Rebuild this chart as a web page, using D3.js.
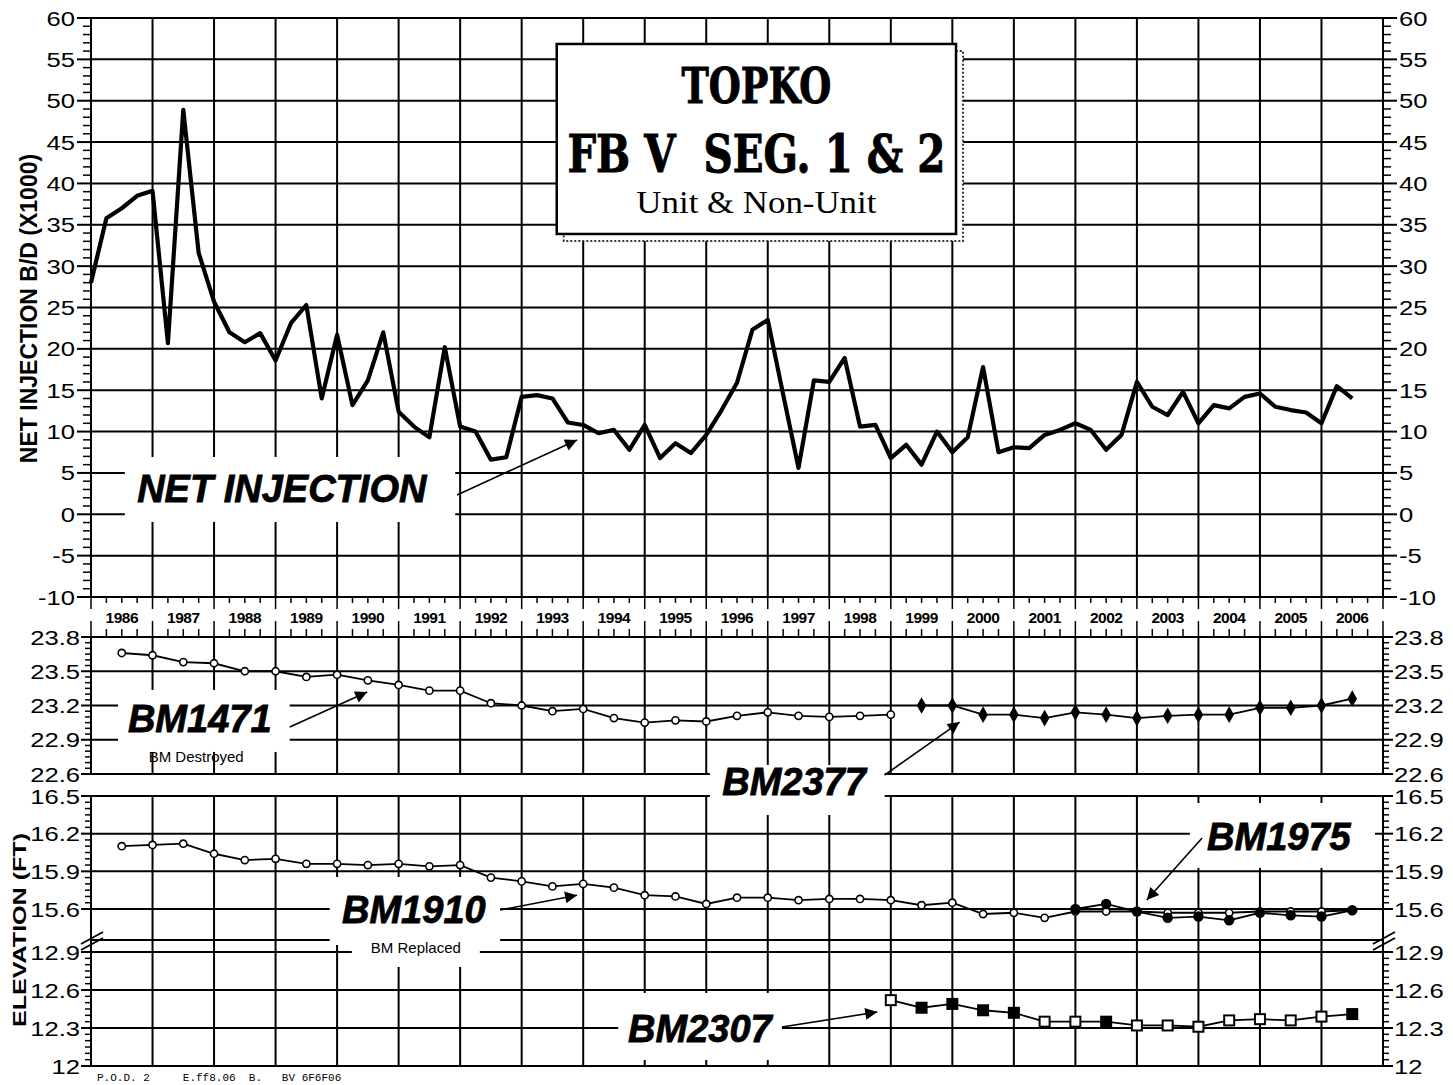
<!DOCTYPE html>
<html>
<head>
<meta charset="utf-8">
<script src="https://cdn.jsdelivr.net/npm/d3@7"></script>
<style>
  body { margin: 0; background: #fff; }
  svg { display: block; }
  text { font-family: "Liberation Sans", Arial, sans-serif; }
</style>
</head>
<body>
<script>
// net injection, quarterly from 1986.0 (B/D x1000)
const injStart = 1986;
const injection = [
  28.0, 35.8, 37.0, 38.5, 39.1, 20.7, 48.9, 31.6,
  25.7, 22.0, 20.8, 21.9, 18.6, 23.1, 25.3, 14.0,
  21.7, 13.2, 16.2, 22.0, 12.4, 10.6, 9.3, 20.2,
  10.6, 10.0, 6.6, 6.9, 14.2, 14.4, 14.0, 11.1,
  10.8, 9.8, 10.2, 7.8, 10.8, 6.8, 8.6, 7.4,
  9.6, 12.6, 15.9, 22.3, 23.5, 14.5, 5.6, 16.2,
  16.0, 18.9, 10.6, 10.8, 6.8, 8.4, 6.0, 10.0,
  7.5, 9.3, 17.8, 7.5, 8.1, 8.0, 9.6, 10.2,
  11.0, 10.2, 7.8, 9.6, 16.0, 13.0, 12.0, 14.8,
  11.0, 13.2, 12.8, 14.2, 14.6, 13.0, 12.6, 12.3,
  11.0, 15.5, 14.0
];

// bench mark elevations (ft), surveyed every half year
const bm1471Start = 1986.5;
const bm1471 = [23.66, 23.64, 23.58, 23.57, 23.50, 23.50, 23.45, 23.47, 23.42, 23.38,
  23.33, 23.33, 23.22, 23.20, 23.15, 23.17, 23.09, 23.05, 23.07, 23.06,
  23.11, 23.14, 23.11, 23.10, 23.11, 23.12];
const bm2377Start = 1999.5;
const bm2377 = [23.20, 23.20, 23.12, 23.12, 23.09, 23.14, 23.12, 23.09, 23.11, 23.12,
  23.12, 23.18, 23.18, 23.20, 23.26];
const bm1910Start = 1986.5;
const bm1910 = [16.10, 16.11, 16.12, 16.04, 15.99, 16.00, 15.96, 15.96, 15.95, 15.96,
  15.94, 15.95, 15.85, 15.82, 15.78, 15.80, 15.77, 15.71, 15.70, 15.64,
  15.69, 15.69, 15.67, 15.68, 15.68, 15.67, 15.63, 15.65, 15.56, 15.57,
  15.53, 15.58, 15.58, 15.58, 15.57, 15.57, 15.57, 15.58, 15.58, 15.58, 15.59];
const bm1975Start = 2002.0;
const bm1975 = [15.60, 15.64, 15.58, 15.53, 15.54, 15.51, 15.57, 15.55, 15.54, 15.59];
const bm2307Start = 1999.0;
const bm2307 = [12.52, 12.46, 12.49, 12.44, 12.42, 12.35, 12.35, 12.35, 12.32, 12.32,
  12.31, 12.36, 12.37, 12.36, 12.39, 12.41];
const bm2307Filled = [false, true, true, true, true, false, false, true, false, false,
  false, false, false, false, false, true];

// axis ticks
const years = d3.range(1986, 2007);
const injTicks = [-10, -5, 0, 5, 10, 15, 20, 25, 30, 35, 40, 45, 50, 55, 60];
const upperTicks = [22.6, 22.9, 23.2, 23.5, 23.8];
const hiTicks = [15.6, 15.9, 16.2, 16.5];
const loTicks = [12, 12.3, 12.6, 12.9];

const W = 1453, H = 1085;
const svg = d3.select("body").append("svg").attr("width", W).attr("height", H);

const x = d3.scaleLinear().domain([1986, 2007]).range([91, 1383]);
const yInj = d3.scaleLinear().domain([-10, 60]).range([597, 18]);
const yUp = d3.scaleLinear().domain([22.6, 23.8]).range([774, 637]);
const yHi = d3.scaleLinear().domain([15.6, 16.5]).range([909, 796]);
const yLo = d3.scaleLinear().domain([12, 12.9]).range([1066, 952]);
const breakY = yLo(12.9) - 12;

const x0 = x(1986), x1 = x(2007);
const grid = svg.append("g").attr("stroke", "#000").attr("stroke-width", 2);

// ---- grids and frames
function panel(top, bottom, hLines) {
  grid.selectAll(null).data(years.slice(1)).enter().append("line")
    .attr("x1", d => x(d)).attr("x2", d => x(d))
    .attr("y1", top).attr("y2", bottom);
  grid.selectAll(null).data(hLines).enter().append("line")
    .attr("x1", x0).attr("x2", x1).attr("y1", d => d).attr("y2", d => d);
  grid.append("rect").attr("x", x0).attr("y", top)
    .attr("width", x1 - x0).attr("height", bottom - top).attr("fill", "none");
}
panel(yInj(60), yInj(-10), injTicks.map(yInj));
panel(yUp(23.8), yUp(22.6), upperTicks.map(yUp));
panel(yHi(16.5), yLo(12), hiTicks.map(yHi).concat(loTicks.map(yLo), [breakY]));

// ---- y axes (left and right)
function stretched(g, px, py, str, anchor, size) {
  g.append("text")
    .attr("transform", `translate(${px},${py}) scale(1.22,1)`)
    .attr("text-anchor", anchor).attr("dy", "0.36em")
    .attr("font-size", size).text(str);
}
function yAxis(scale, majors, minors, majLen, minLen, labelGap) {
  const g = svg.append("g");
  const minorsIn = minors.filter(v => !majors.some(m => Math.abs(m - v) < 1e-6));
  [[x0, -1], [x1, 1]].forEach(([ax, dir]) => {
    g.selectAll(null).data(minorsIn).enter().append("line")
      .attr("x1", ax).attr("x2", ax + dir * minLen)
      .attr("y1", d => scale(d)).attr("y2", d => scale(d))
      .attr("stroke", "#000").attr("stroke-width", 1.5);
    g.selectAll(null).data(majors).enter().append("line")
      .attr("x1", ax).attr("x2", ax + dir * majLen)
      .attr("y1", d => scale(d)).attr("y2", d => scale(d))
      .attr("stroke", "#000").attr("stroke-width", 2);
    majors.forEach(v => stretched(g, ax + dir * (majLen + labelGap), scale(v), String(v),
      dir < 0 ? "end" : "start", 21));
  });
}
yAxis(yInj, injTicks, d3.range(-10, 60.01, 1), 14, 8, 2);
yAxis(yUp, upperTicks, d3.range(22.6, 23.801, 0.05), 10, 6, 1);
yAxis(yHi, hiTicks, d3.range(15.6, 16.501, 0.05), 10, 6, 1);
yAxis(yLo, loTicks, d3.range(12, 12.901, 0.05), 10, 6, 1);

// ---- year strip between top and middle panels
const quarterTicks = d3.range(1986, 2007.01, 0.25);
const strip = svg.append("g").attr("stroke", "#000").attr("stroke-width", 1.5);
strip.selectAll(null).data(quarterTicks).enter().append("line")
  .attr("x1", d => x(d)).attr("x2", d => x(d))
  .attr("y1", yInj(-10))
  .attr("y2", d => yInj(-10) + (d % 1 === 0 ? 12 : 6));
strip.selectAll(null).data(quarterTicks).enter().append("line")
  .attr("x1", d => x(d)).attr("x2", d => x(d))
  .attr("y1", yUp(23.8))
  .attr("y2", d => yUp(23.8) - (d % 1 === 0 ? 16 : 8));
svg.append("g").selectAll("text").data(years).enter().append("text")
  .attr("x", d => x(d + 0.5)).attr("y", 623)
  .attr("text-anchor", "middle").attr("font-size", 15.5).attr("font-weight", "bold")
  .attr("letter-spacing", -0.5)
  .text(d => d);

// axis break marks
function breakMark(ax) {
  [0, 6].forEach(o => svg.append("line")
    .attr("x1", ax - 10).attr("y1", breakY + 4 + o)
    .attr("x2", ax + 12).attr("y2", breakY - 8 + o)
    .attr("stroke", "#000").attr("stroke-width", 1.8));
}
breakMark(x0);
breakMark(x1);

// ---- white boxes that hide the grid behind labels
const boxes = [
  [1986.55, 1991.92, yInj(6.93), yInj(-0.93)],
  [1986.44, 1989.23, yUp(23.336), yUp(22.793)],
  [1996.06, 1998.9, yUp(22.679), yHi(16.349)],
  [1989.88, 1992.65, yHi(15.855), yHi(15.313)],
  [1990.24, 1992.32, yLo(12.995), yLo(12.782)],
  [2003.86, 2006.87, yHi(16.444), yHi(15.927)],
  [1994.57, 1997.23, yLo(12.576), yLo(12.047)]
];
svg.append("g").selectAll("rect").data(boxes).enter().append("rect")
  .attr("x", d => x(d[0])).attr("y", d => d[2])
  .attr("width", d => x(d[1]) - x(d[0])).attr("height", d => d[3] - d[2])
  .attr("fill", "#fff");

// ---- title box
const tb = { t0: 1993.57, t1: 2000.06, v0: 56.86, v1: 33.89 };
svg.append("rect")
  .attr("x", x(tb.t0) + 7).attr("y", yInj(tb.v0) + 7)
  .attr("width", x(tb.t1) - x(tb.t0)).attr("height", yInj(tb.v1) - yInj(tb.v0))
  .attr("fill", "#fff").attr("stroke", "#333").attr("stroke-width", 2)
  .attr("stroke-dasharray", "2,2");
svg.append("rect")
  .attr("x", x(tb.t0)).attr("y", yInj(tb.v0))
  .attr("width", x(tb.t1) - x(tb.t0)).attr("height", yInj(tb.v1) - yInj(tb.v0))
  .attr("fill", "#fff").attr("stroke", "#000").attr("stroke-width", 2.5);
const tcx = x((tb.t0 + tb.t1) / 2);
svg.append("text").attr("x", tcx).attr("y", yInj(49.72))
  .attr("text-anchor", "middle")
  .attr("font-weight", "bold").attr("font-size", 49)
  .attr("stroke", "#000").attr("stroke-width", 1)
  .attr("textLength", 150).attr("lengthAdjust", "spacingAndGlyphs")
  .style("font-family", "'DejaVu Serif', serif").text("TOPKO");
svg.append("text").attr("x", tcx).attr("y", yInj(41.38))
  .attr("text-anchor", "middle").attr("font-weight", "bold").attr("font-size", 53)
  .attr("stroke", "#000").attr("stroke-width", 1)
  .attr("textLength", 378).attr("lengthAdjust", "spacingAndGlyphs")
  .style("font-family", "'DejaVu Serif', serif").style("white-space", "pre")
  .text("FB V  SEG. 1 & 2");
svg.append("text").attr("x", tcx).attr("y", yInj(36.42))
  .attr("text-anchor", "middle").attr("font-size", 32)
  .attr("textLength", 240).attr("lengthAdjust", "spacingAndGlyphs")
  .style("font-family", "'Liberation Serif', serif").text("Unit & Non-Unit");

// ---- data lines
const injData = injection.map((v, i) => ({ t: injStart + i * 0.25, v }));
const semi = (start, vals) => vals.map((v, i) => ({ t: start + i * 0.5, v, i }));

svg.append("path").datum(injData)
  .attr("d", d3.line().x(d => x(d.t)).y(d => yInj(d.v)))
  .attr("fill", "none").attr("stroke", "#000").attr("stroke-width", 4.2)
  .attr("stroke-linejoin", "round");

function series(data, scale, marker) {
  svg.append("path").datum(data)
    .attr("d", d3.line().x(d => x(d.t)).y(d => scale(d.v)))
    .attr("fill", "none").attr("stroke", "#000").attr("stroke-width", 1.8);
  const g = svg.append("g");
  data.forEach(d => marker(g, x(d.t), scale(d.v), d));
}
const openCircle = (g, cx, cy) => g.append("circle").attr("cx", cx).attr("cy", cy).attr("r", 3.6)
  .attr("fill", "#fff").attr("stroke", "#000").attr("stroke-width", 1.6);
const dotCircle = (g, cx, cy) => g.append("circle").attr("cx", cx).attr("cy", cy).attr("r", 5.2)
  .attr("fill", "#000");
const diamond = (g, cx, cy) => g.append("path")
  .attr("d", d3.symbol(d3.symbolDiamond, 80)()).attr("transform", `translate(${cx},${cy})`)
  .attr("fill", "#000");
const square = (g, cx, cy, d) => g.append("rect")
  .attr("x", cx - 5).attr("y", cy - 5).attr("width", 10).attr("height", 10)
  .attr("fill", bm2307Filled[d.i] ? "#000" : "#fff").attr("stroke", "#000").attr("stroke-width", 2);

series(semi(bm1471Start, bm1471), yUp, openCircle);
series(semi(bm2377Start, bm2377), yUp, diamond);
series(semi(bm1910Start, bm1910), yHi, openCircle);
series(semi(bm1975Start, bm1975), yHi, dotCircle);
series(semi(bm2307Start, bm2307), yLo, square);

// ---- annotations
svg.append("defs").append("marker").attr("id", "arrow")
  .attr("viewBox", "0 0 10 10").attr("refX", 10).attr("refY", 5)
  .attr("markerWidth", 16).attr("markerHeight", 12).attr("markerUnits", "userSpaceOnUse")
  .attr("orient", "auto")
  .append("path").attr("d", "M0,0 L10,5 L0,10 Z").attr("fill", "#000");

const notes = [
  { text: "NET INJECTION", t: 1986.75, y: yInj(1.49), from: [1991.95, yInj(2.33)], to: [1993.9, yInj(8.98)] },
  { text: "BM1471", t: 1986.6, y: yUp(22.968), from: [1989.23, yUp(23.012)], to: [1990.49, yUp(23.318)] },
  { text: "BM2377", t: 1996.26, y: yHi(16.5) - 1, from: [1998.9, yUp(22.6) + 1], to: [2000.12, yUp(23.055)] },
  { text: "BM1910", t: 1990.08, y: yHi(15.489), from: [1992.65, yHi(15.592)], to: [1993.9, yHi(15.71)] },
  { text: "BM1975", t: 2004.14, y: yHi(16.07), from: [2004.06, yHi(16.166)], to: [2003.16, yHi(15.672)] },
  { text: "BM2307", t: 1994.73, y: yLo(12.189), from: [1997.23, yLo(12.308)], to: [1998.78, yLo(12.426)] }
];
const ng = svg.append("g");
notes.forEach(n => {
  ng.append("line")
    .attr("x1", x(n.from[0])).attr("y1", n.from[1])
    .attr("x2", x(n.to[0])).attr("y2", n.to[1])
    .attr("stroke", "#000").attr("stroke-width", 1.6).attr("marker-end", "url(#arrow)");
  ng.append("text").attr("x", x(n.t)).attr("y", n.y)
    .attr("font-size", 38).attr("font-weight", "bold").attr("font-style", "italic")
    .attr("stroke", "#000").attr("stroke-width", 0.8)
    .text(n.text);
});
ng.append("text").attr("x", x(1987.71)).attr("y", yUp(22.705))
  .attr("text-anchor", "middle").attr("font-size", 15).text("BM Destroyed");
ng.append("text").attr("x", x(1991.28)).attr("y", yLo(12.892))
  .attr("text-anchor", "middle").attr("font-size", 15).text("BM Replaced");

// ---- axis titles
svg.append("text")
  .attr("transform", `translate(37,${(150 + 467) / 2}) rotate(-90)`)
  .attr("text-anchor", "middle").attr("font-size", 23).attr("font-weight", "bold")
  .text("NET INJECTION B/D (X1000)");
svg.append("text")
  .attr("transform", `translate(26,${(833 + 1027) / 2}) rotate(-90)`)
  .attr("text-anchor", "middle").attr("font-size", 19).attr("font-weight", "bold")
  .attr("textLength", 194).attr("lengthAdjust", "spacingAndGlyphs")
  .text("ELEVATION (FT)");

// ---- footer note under the chart
svg.append("text").attr("x", 97).attr("y", 1081)
  .attr("font-size", 11).style("font-family", "'Liberation Mono', monospace")
  .style("white-space", "pre")
  .text("P.O.D. 2     E.ff8.06  B.   BV 6F6F06");
</script>
</body>
</html>
